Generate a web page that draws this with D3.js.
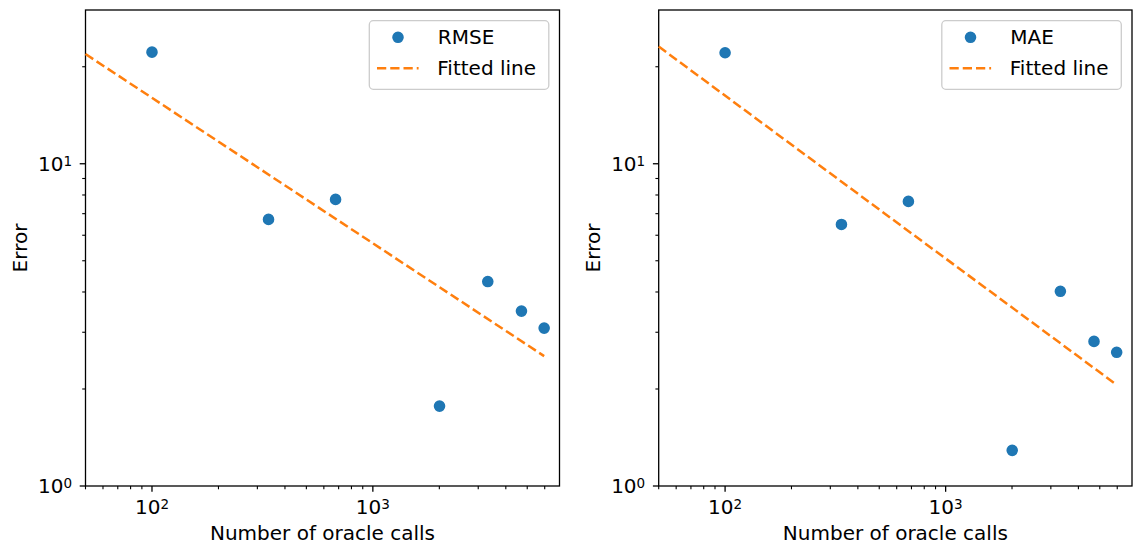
<!DOCTYPE html>
<html>
<head>
<meta charset="utf-8">
<script src="https://cdn.jsdelivr.net/npm/d3@7"></script>
<style>
  body { margin: 0; background: #fff; }
  svg text { font-family: "DejaVu Sans", sans-serif; fill: #000; }
</style>
</head>
<body>
<div id="chart"></div>
<script>
// Data
const calls = [100, 337, 678, 2004, 3314, 4708, 5965];
const rmse = [22.2, 6.72, 7.75, 1.77, 4.31, 3.49, 3.09];
const mae = [22.1, 6.48, 7.64, 1.29, 4.02, 2.81, 2.60];
const fitCalls = [50, 5965];
const rmseFit = [21.9, 2.53];
const maeFit = [23.1, 2.06];

// Tick values
const xMajor = [100, 1000];
const xMajorExp = ["2", "3"];
const xMinor = [50, 60, 70, 80, 90, 200, 300, 400, 500, 600, 700, 800, 900, 2000, 3000, 4000, 5000, 6000];
const yMajor = [1, 10];
const yMajorExp = ["0", "1"];
const yMinor = [2, 3, 4, 5, 6, 7, 8, 9, 20];

const width = 1134;
const height = 548;
const blue = "#1f77b4";
const orange = "#ff7f0e";

const svg = d3.select("#chart")
  .append("svg")
  .attr("width", width)
  .attr("height", height);

function drawPanel(x0, x1, values, fitValues, name) {
  const x = d3.scaleLog().domain([50, 7000]).range([x0, x1]);
  const y = d3.scaleLog().domain([1, 30]).range([486, 10]);
  const g = svg.append("g");

  // Minor ticks
  g.selectAll(".xminor").data(xMinor).join("line")
    .attr("x1", d => x(d)).attr("x2", d => x(d))
    .attr("y1", 486).attr("y2", 486 + 3.3)
    .attr("stroke", "#000").attr("stroke-width", 1.1);
  g.selectAll(".yminor").data(yMinor).join("line")
    .attr("class", "yminor")
    .attr("y1", d => y(d)).attr("y2", d => y(d))
    .attr("x1", x0).attr("x2", x0 - 3.3)
    .attr("stroke", "#000").attr("stroke-width", 1.1);

  // Major ticks + labels
  xMajor.forEach((v, i) => {
    g.append("line")
      .attr("x1", x(v)).attr("x2", x(v))
      .attr("y1", 486).attr("y2", 486 + 5.8)
      .attr("stroke", "#000").attr("stroke-width", 1.3);
    const t = g.append("text")
      .attr("x", x(v)).attr("y", 514)
      .attr("text-anchor", "middle")
      .style("font-size", "20px");
    t.append("tspan").text("10");
    t.append("tspan").attr("dy", -5.5).style("font-size", "13.5px").text(xMajorExp[i]);
  });
  yMajor.forEach((v, i) => {
    g.append("line")
      .attr("y1", y(v)).attr("y2", y(v))
      .attr("x1", x0).attr("x2", x0 - 5.8)
      .attr("stroke", "#000").attr("stroke-width", 1.3);
    const t = g.append("text")
      .attr("x", x0 - 13.5).attr("y", y(v) + 7.3)
      .attr("text-anchor", "end")
      .style("font-size", "20px");
    t.append("tspan").text("10");
    t.append("tspan").attr("dy", -5.5).style("font-size", "13.5px").text(yMajorExp[i]);
  });

  // Frame
  g.append("rect")
    .attr("x", x0).attr("y", 10)
    .attr("width", x1 - x0).attr("height", 476)
    .attr("fill", "none")
    .attr("stroke", "#000")
    .attr("stroke-width", 1.3);

  // Points
  g.selectAll(".pt").data(calls.map((c, i) => [c, values[i]])).join("circle")
    .attr("cx", d => x(d[0]))
    .attr("cy", d => y(d[1]))
    .attr("r", 5)
    .attr("fill", blue)
    .attr("stroke", blue)
    .attr("stroke-width", 1.6);

  // Fitted line
  const line = d3.line().x(d => x(d[0])).y(d => y(d[1]));
  g.append("path")
    .datum(fitCalls.map((c, i) => [c, fitValues[i]]))
    .attr("d", line)
    .attr("fill", "none")
    .attr("stroke", orange)
    .attr("stroke-width", 2.5)
    .attr("stroke-dasharray", "9.25,4");

  // Axis labels
  g.append("text")
    .attr("x", (x0 + x1) / 2).attr("y", 540)
    .attr("text-anchor", "middle")
    .style("font-size", "20px")
    .text("Number of oracle calls");
  g.append("text")
    .attr("transform", `translate(${x0 - 59}, 248) rotate(-90)`)
    .attr("text-anchor", "middle")
    .style("font-size", "20px")
    .text("Error");

  // Legend
  const lx = x1 - 10.7 - 179.5;
  const lg = g.append("g").attr("transform", `translate(${lx}, 20.7)`);
  lg.append("rect")
    .attr("width", 179.5).attr("height", 68.6)
    .attr("rx", 4).attr("ry", 4)
    .attr("fill", "#fff").attr("fill-opacity", 0.8)
    .attr("stroke", "#cccccc").attr("stroke-width", 1.3);
  lg.append("circle")
    .attr("cx", 28.7).attr("cy", 16.6)
    .attr("r", 5)
    .attr("fill", blue).attr("stroke", blue).attr("stroke-width", 1.6);
  lg.append("text")
    .attr("x", 68.5).attr("y", 23.8)
    .style("font-size", "20px")
    .text(name);
  lg.append("line")
    .attr("x1", 7.7).attr("x2", 49.3)
    .attr("y1", 47.6).attr("y2", 47.6)
    .attr("stroke", orange).attr("stroke-width", 2.5)
    .attr("stroke-dasharray", "9.25,4");
  lg.append("text")
    .attr("x", 68).attr("y", 54.8)
    .style("font-size", "20px")
    .text("Fitted line");
}

drawPanel(85.5, 559.5, rmse, rmseFit, "RMSE");
drawPanel(658.7, 1132, mae, maeFit, "MAE");
</script>
</body>
</html>
